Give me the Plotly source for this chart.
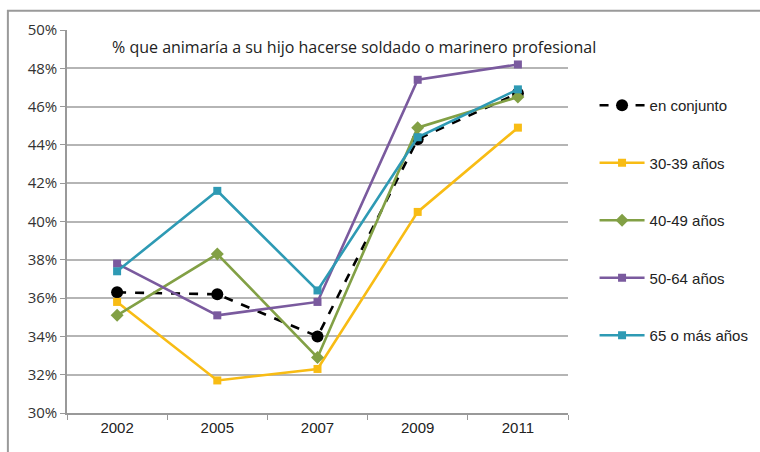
import plotly.graph_objects as go

years = ["2002", "2005", "2007", "2009", "2011"]
conjunto = [36.3, 36.2, 34.0, 44.3, 46.7]
edad_30_39 = [35.8, 31.7, 32.3, 40.5, 44.9]
edad_40_49 = [35.1, 38.3, 32.9, 44.9, 46.5]
edad_50_64 = [37.8, 35.1, 35.8, 47.4, 48.2]
edad_65_mas = [37.4, 41.6, 36.4, 44.4, 46.9]

title_text = "% que animaría a su hijo hacerse soldado o marinero profesional"

series = [
    ("en conjunto", conjunto, "black", "circle", 12, "dash"),
    ("30-39 años", edad_30_39, "#F8BC14", "square", 8, "solid"),
    ("40-49 años", edad_40_49, "#82A045", "diamond", 10, "solid"),
    ("50-64 años", edad_50_64, "#7A5A9E", "square", 8, "solid"),
    ("65 o más años", edad_65_mas, "#2E9AB4", "square", 8, "solid"),
]

fig = go.Figure()
for name, vals, color, sym, size, dash in series:
    fig.add_trace(go.Scatter(
        x=years, y=vals, name=name, legendgroup=name,
        mode="lines+markers",
        line=dict(color=color, width=2.6, dash=dash),
        marker=dict(symbol=sym, size=size, color=color),
    ))

fig.update_layout(
    width=760, height=452,
    margin=dict(l=67, r=192, t=30, b=39, autoexpand=False),
    plot_bgcolor="white", paper_bgcolor="white",
    font=dict(family="Liberation Sans", color="#404040"),
    showlegend=True,
    legend=dict(
        x=1.053, y=0.846, xanchor="left", yanchor="top",
        font=dict(family="Liberation Sans Narrow, Liberation Sans", size=15, color="#222"),
        tracegroupgap=35, itemwidth=45,
    ),
    annotations=[dict(
        text=title_text, xref="paper", yref="paper", x=0.085, y=0.955,
        xanchor="left", yanchor="middle", showarrow=False,
        font=dict(family="Open Sans", size=16, color="#222"),
    )],
    shapes=[dict(
        type="rect", xref="paper", yref="paper",
        x0=-0.118, x1=1.5, y0=-0.2, y1=1.05,
        line=dict(color="#9a9a9a", width=2),
    )],
)
fig.update_xaxes(
    type="category", range=[-0.5, 4.5], tickson="boundaries",
    ticks="outside", ticklen=5,
    tickcolor="#999", showline=True, linecolor="#999", linewidth=1.5,
    showgrid=False,
    tickfont=dict(family="Liberation Sans", size=15, color="#222"),
)
fig.update_yaxes(
    range=[30, 50], dtick=2, ticksuffix="%", ticks="outside", ticklen=5,
    tickcolor="#999", showline=True, linecolor="#999", linewidth=1.5,
    showgrid=True, gridcolor="#b5b5b5", gridwidth=1.5, zeroline=False,
    tickfont=dict(family="Open Sans", size=15, color="#333"),
)

fig.write_html("out.html", config={"displayModeBar": False},
               post_script="document.body.style.margin='0px';")
